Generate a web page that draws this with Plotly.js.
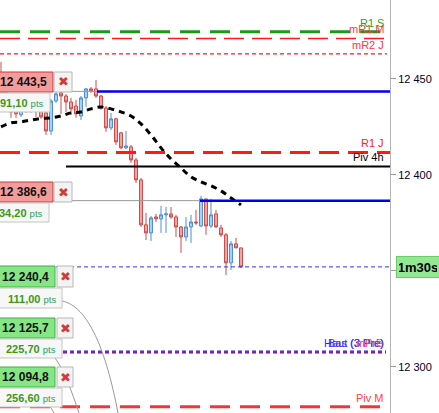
<!DOCTYPE html>
<html><head><meta charset="utf-8">
<script src="https://cdn.plot.ly/plotly-3.0.1.min.js"></script>
<style>html,body{margin:0;padding:0;background:#fff;overflow:hidden}#chart{width:439px;height:413px}</style>
</head><body><div id="chart"></div>
<script>
// ---- data ----
const candleIndex = [0,1,2,3,4,5,6,7,8,9,10,11,12,13,14,15,16,17,18,19,20,21,22,23,24,25,26,27,28,29,30,31,32,33,34,35,36,37,38,39,40,41,42,43,44,45,46,47,48];
const opens  = [12452.1,12439.1,12439.1,12434.9,12431.3,12436.5,12433.9,12437.0,12434.9,12432.3,12422.9,12438.5,12442.7,12441.1,12438.0,12435.9,12430.7,12440.1,12444.8,12444.8,12441.1,12434.9,12424.5,12429.2,12421.9,12414.1,12414.6,12407.8,12397.4,12374.0,12369.8,12378.1,12377.1,12379.2,12379.7,12378.1,12372.9,12367.7,12372.9,12375.5,12373.4,12387.5,12373.4,12379.7,12372.4,12368.8,12354.2,12364.1,12362.0];
const highs  = [12458.9,12446.9,12441.7,12437.0,12437.5,12440.1,12439.6,12439.1,12437.5,12434.9,12439.6,12445.3,12444.8,12442.2,12440.1,12439.1,12441.1,12445.3,12445.8,12449.5,12441.7,12435.9,12432.3,12429.7,12422.4,12422.9,12415.6,12408.9,12398.4,12380.2,12378.6,12379.7,12383.9,12383.3,12383.3,12379.2,12373.4,12378.1,12379.2,12381.8,12389.1,12387.5,12387.5,12381.8,12374.0,12369.8,12365.6,12367.2,12362.0];
const lows   = [12440.1,12437.0,12429.7,12429.7,12430.2,12432.3,12432.3,12430.2,12429.2,12420.8,12420.8,12437.5,12431.8,12432.8,12431.3,12429.7,12428.6,12435.4,12442.7,12440.1,12433.9,12422.4,12423.4,12415.6,12413.5,12413.5,12406.3,12395.8,12372.9,12366.1,12365.6,12375.5,12369.8,12369.8,12377.1,12367.7,12359.4,12365.6,12364.6,12374.0,12372.9,12368.8,12372.4,12372.4,12367.7,12347.9,12350.5,12362.0,12351.6];
const closes = [12441.7,12444.3,12432.8,12431.8,12435.4,12433.9,12437.0,12434.9,12430.2,12422.9,12438.5,12442.2,12441.1,12438.0,12434.4,12431.8,12440.1,12444.8,12443.8,12441.1,12434.9,12424.5,12429.2,12417.2,12414.1,12415.1,12407.8,12397.4,12374.0,12369.8,12377.6,12377.1,12379.2,12379.7,12378.1,12372.9,12367.7,12372.9,12375.5,12375.0,12387.5,12373.4,12379.2,12372.9,12368.8,12354.2,12364.1,12362.0,12352.1];

const maIndex  = [0,2,4,6,8,10,12,14,16,18,20,22,24,26,28,30,32,34,36,38,40,42,44,46,48];
const maValues = [12425.0,12427.1,12427.6,12428.6,12429.4,12429.7,12430.7,12432.3,12432.8,12434.4,12435.4,12434.4,12432.8,12430.7,12426.6,12420.8,12414.1,12408.3,12403.6,12399.0,12396.4,12394.3,12391.7,12388.0,12384.4];

const levelNames  = ['R1 S','mR1 M','mR2 J','R1 J','Piv 4h','Haut (3 Pré)','Piv M'];
const levelValues = [12474.5,12471.1,12463.0,12411.7,12404.4,12307.8,12279.2];

const orderPrices = [12443.5,12386.6,12240.4,12125.7,12094.8];
const orderLabels = ['@ 12 443,5','@ 12 386,6','@ 12 240,4','@ 12 125,7','@ 12 094,8'];
const orderPts    = ['91,10','34,20','111,00','225,70','256,60'];
const orderEntryIndex = [19.2,39.8];
const currentPrice = 12352.1;
const timerText = '1m30s';

const tickVals = [12300,12350,12400,12450];
const tickText = ['12 300','12 350','12 400','12 450'];

// ---- layout geometry ----
const W = 390, H = 413;
const xMin = -0.2, xMax = 77.8;
const yMin = 12276.0, yMax = 12491.1;
const px = v => v / W;
const py = v => 1 - v / H;

const FONT = 'Liberation Sans, Arial, sans-serif';

const traces = [
  {
    type: 'candlestick', x: candleIndex, open: opens, high: highs, low: lows, close: closes,
    increasing: {line: {color: '#4a8fd6', width: 1}, fillcolor: '#a9d1f5'},
    decreasing: {line: {color: '#d04a4a', width: 1}, fillcolor: '#f4a3a3'},
    whiskerwidth: 0, hoverinfo: 'skip', showlegend: false
  },
  {
    type: 'scatter', mode: 'lines', x: maIndex, y: maValues,
    line: {color: '#000', width: 3, dash: '6px,5px', shape: 'spline'},
    hoverinfo: 'skip', showlegend: false
  }
];

const shapes = [];
function hline(y, color, width, dash, x0, x1, ref) {
  shapes.push({type: 'line', xref: ref || 'paper', yref: 'y', x0: x0 === undefined ? 0 : x0, x1: x1 === undefined ? 1 : x1,
    y0: y, y1: y, line: {color: color, width: width, dash: dash || 'solid'}});
}
// level lines
hline(levelValues[0], '#1a9a1a', 3, '20px,10px');
hline(levelValues[1], '#ff1a1a', 1.5, '20px,8px');
hline(levelValues[2], '#ff1a1a', 1.2, '4px,3px', 0, px(387));
hline(levelValues[3], '#ff1a1a', 3, '20px,9px');
hline(levelValues[4], '#000000', 2, 'solid', px(66), 1);
hline(levelValues[5], '#2020ff', 3, '4px,3px', 0, px(386));
hline(levelValues[5], '#ff2020', 1, '4px,3px', 0, px(386));
hline(levelValues[6], '#ff3030', 3, '20px,10px');
hline(currentPrice, '#3030ff', 1, '4px,3px');
// order lines (gray until entry, then blue)
hline(orderPrices[0], '#9a9a9a', 1, 'solid', xMin, orderEntryIndex[0], 'x');
hline(orderPrices[0], '#0000ee', 2.5, 'solid', orderEntryIndex[0], xMax, 'x');
hline(orderPrices[1], '#9a9a9a', 1, 'solid', xMin, orderEntryIndex[1], 'x');
hline(orderPrices[1], '#0000ee', 2.5, 'solid', orderEntryIndex[1], xMax, 'x');

// connector curves for the off-chart orders
function path(d) {
  shapes.push({type: 'path', xref: 'paper', yref: 'paper', path: d, line: {color: '#9a9a9a', width: 1}});
}
const P = (x, y) => px(x) + ',' + py(y);
path('M' + P(62, 301) + ' C' + P(88, 306) + ' ' + P(106, 350) + ' ' + P(118, 413));
path('M' + P(55, 358) + ' C' + P(63, 368) + ' ' + P(72, 392) + ' ' + P(79, 413));
path('M' + P(50, 406) + ' L' + P(54, 413));

// order tickets
const annotations = [];
const rows = [
  {top: 72,  bot: 92,  pb: 112, mainR: 53, xl: 54, xr: 72, ptsR: 50, red: true},
  {top: 182, bot: 202, pb: 222, mainR: 53, xl: 54, xr: 72, ptsR: 49, red: true},
  {top: 266, bot: 287, pb: 308, mainR: 55, xl: 57, xr: 73, ptsR: 62, red: false},
  {top: 318, bot: 338, pb: 358, mainR: 55, xl: 57, xr: 73, ptsR: 62, red: false},
  {top: 367, bot: 387, pb: 407, mainR: 55, xl: 57, xr: 73, ptsR: 62, red: false}
];
function rect(x0, y0, x1, y1, fill, line) {
  shapes.push({type: 'rect', xref: 'paper', yref: 'paper', x0: px(x0), x1: px(x1), y0: py(y1), y1: py(y0),
    fillcolor: fill, line: {color: line, width: 1}});
}
rows.forEach((r, i) => {
  rect(-10, r.top, r.mainR, r.bot, r.red ? '#f39c9c' : '#86e686', r.red ? '#c83c3c' : '#40b040');
  rect(r.xl, r.top, r.xr, r.bot, '#f3f3f3', '#b8b8b8');
  rect(-10, r.bot + 1, r.ptsR, r.pb, '#f7f7f7', '#c4c4c4');
  annotations.push({xref: 'paper', yref: 'paper', x: px(r.mainR - 4), y: py((r.top + r.bot) / 2),
    xanchor: 'right', yanchor: 'middle', showarrow: false,
    text: '<b>' + orderLabels[i] + '</b>', font: {family: FONT, size: 12, color: '#111'}});
  annotations.push({xref: 'paper', yref: 'paper', x: px((r.xl + r.xr) / 2), y: py((r.top + r.bot) / 2),
    xanchor: 'center', yanchor: 'middle', showarrow: false,
    text: '✖', font: {family: 'DejaVu Sans', size: 13, color: '#d43a3a'}});
  annotations.push({xref: 'paper', yref: 'paper', x: px(r.ptsR - 4), y: py((r.bot + r.pb) / 2 + 1),
    xanchor: 'right', yanchor: 'middle', showarrow: false,
    text: '<b>' + orderPts[i] + '</b> <span style="font-size:9.5px;color:#2aa060">pts</span>',
    font: {family: FONT, size: 11, color: '#3a9a1a'}});
});

// level labels on the right
const labelColors = ['#22aa22','#ff3355','#ff3344','#ff2222','#000000','#2a2aff','#ff4444'];
levelNames.forEach((n, i) => {
  annotations.push({xref: 'paper', yref: 'y', x: px(386), y: levelValues[i], xanchor: 'right', yanchor: 'bottom',
    yshift: 1, showarrow: false, text: n, font: {family: FONT, size: 11, color: labelColors[i]}});
});
annotations.push({xref: 'paper', yref: 'y', x: px(386), y: levelValues[5], xanchor: 'right', yanchor: 'bottom',
  yshift: 1, showarrow: false, text: 'Bas (3 Pré)', font: {family: FONT, size: 11, color: '#3a3aff'}});
annotations.push({xref: 'paper', yref: 'y', x: px(384), y: levelValues[5], xanchor: 'right', yanchor: 'bottom',
  yshift: 1, showarrow: false, text: 'mPré', font: {family: FONT, size: 11, color: '#ff4040'}});

// current price timer box
annotations.push({xref: 'paper', yref: 'y', x: px(396), y: currentPrice, xanchor: 'left', yanchor: 'middle',
  showarrow: false, text: '<b>' + timerText + '</b>', font: {family: FONT, size: 13, color: '#000'},
  bgcolor: '#94e894', bordercolor: '#6ccc6c', borderwidth: 1, borderpad: 2, width: 38, height: 16});

const layout = {
  width: 439, height: 413,
  margin: {l: 0, r: 49, t: 0, b: 0, pad: 0},
  paper_bgcolor: '#fff', plot_bgcolor: '#fff',
  showlegend: false, boxgap: 0.15,
  xaxis: {range: [xMin, xMax], visible: false, rangeslider: {visible: false}, fixedrange: true},
  yaxis: {range: [yMin, yMax], side: 'right', showgrid: false, zeroline: false,
    showline: true, linecolor: '#b4b4b4', linewidth: 1, mirror: false,
    ticks: 'outside', ticklen: 5, tickcolor: '#9a9a9a', tickwidth: 1,
    tickvals: tickVals, ticktext: tickText,
    tickfont: {family: FONT, size: 11, color: '#000022'}, fixedrange: true},
  shapes: shapes, annotations: annotations
};

Plotly.newPlot('chart', traces, layout, {displayModeBar: false, staticPlot: true});
</script></body></html>
